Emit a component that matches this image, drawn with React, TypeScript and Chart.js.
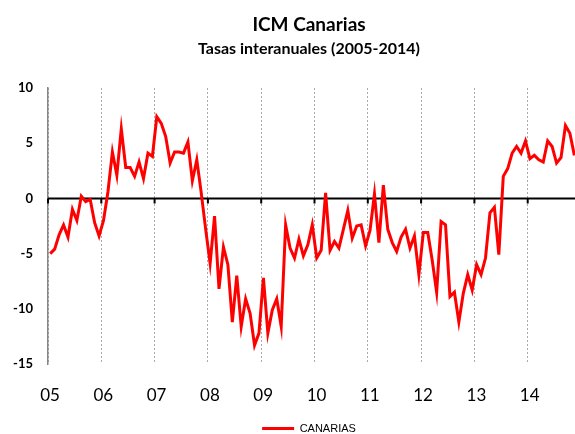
import React, { useEffect, useRef } from 'react';
import { Chart, registerables } from 'chart.js';

Chart.register(...registerables);

const title = 'ICM Canarias';
const subtitle = 'Tasas interanuales (2005-2014)';
const seriesName = 'CANARIAS';
const yearLabels = ['05', '06', '07', '08', '09', '10', '11', '12', '13', '14'];

const y2005 = [-5.0, -4.6, -3.3, -2.4, -3.5, -1.0, -2.0, 0.2, -0.3, -0.1, -2.2, -3.4];
const y2006 = [-2.0, 0.6, 4.2, 2.1, 6.3, 2.8, 2.8, 2.0, 3.3, 1.8, 4.1, 3.8];
const y2007 = [7.4, 6.8, 5.6, 3.2, 4.2, 4.2, 4.1, 5.1, 1.6, 3.5, 0.5, -2.8];
const y2008 = [-5.9, -1.6, -8.2, -4.4, -6.0, -11.2, -7.0, -11.6, -9.1, -10.4, -13.3, -12.2];
const y2009 = [-7.2, -12.2, -10.1, -9.1, -11.6, -2.4, -4.5, -5.4, -3.7, -5.2, -4.2, -2.4];
const y2010 = [-5.4, -4.7, 0.5, -4.7, -3.9, -4.5, -2.8, -1.1, -3.6, -2.5, -2.4, -4.3];
const y2011 = [-2.9, 0.4, -4.0, 1.2, -2.8, -4.0, -4.8, -3.5, -2.8, -4.5, -3.4, -6.9];
const y2012 = [-3.1, -3.1, -5.6, -8.5, -2.1, -2.4, -8.9, -8.5, -11.2, -8.6, -6.9, -8.3];
const y2013 = [-6.0, -6.9, -5.4, -1.3, -0.8, -5.1, 2.0, 2.7, 4.1, 4.7, 4.1, 5.2];
const y2014 = [3.6, 3.9, 3.5, 3.3, 5.2, 4.7, 3.2, 3.7, 6.6, 5.9, 3.9];

const canarias = [
  ...y2005, ...y2006, ...y2007, ...y2008, ...y2009,
  ...y2010, ...y2011, ...y2012, ...y2013, ...y2014,
];

const zeroAxisPlugin = {
  id: 'zeroAxis',
  beforeDatasetsDraw(chart: any) {
    const { ctx, chartArea, scales } = chart;
    const xs = scales.x;
    const ys = scales.y;
    const y0 = ys.getPixelForValue(0);
    ctx.save();
    ctx.strokeStyle = '#000000';
    ctx.lineWidth = 2;
    ctx.beginPath();
    ctx.moveTo(chartArea.left, y0);
    ctx.lineTo(chartArea.right, y0);
    xs.ticks.forEach((t: any) => {
      const px = xs.getPixelForValue(t.value);
      ctx.moveTo(px, y0);
      ctx.lineTo(px, y0 + 5);
    });
    ctx.stroke();
    ctx.restore();
  },
};

export default function App() {
  const ref = useRef<HTMLCanvasElement>(null);

  useEffect(() => {
    if (!ref.current) return;
    const points = canarias.map((v, i) => ({ x: i + 0.5, y: v }));
    const chart = new Chart(ref.current, {
      type: 'line',
      data: {
        datasets: [
          {
            label: seriesName,
            data: points,
            borderColor: '#ff0000',
            backgroundColor: '#ff0000',
            borderWidth: 3,
            pointRadius: 0,
            tension: 0,
          },
        ],
      },
      plugins: [zeroAxisPlugin],
      options: {
        animation: false,
        responsive: false,
        devicePixelRatio: 1,
        layout: { padding: { left: 0, right: 0, top: 0, bottom: 0 } },
        plugins: {
          title: {
            display: true,
            text: title,
            color: '#000',
            font: { family: 'Lato', size: 19, weight: 'bold' },
            padding: { top: 13, bottom: 0 },
          },
          subtitle: {
            display: true,
            text: subtitle,
            color: '#000',
            font: { family: 'Lato', size: 16, weight: 'bold' },
            padding: { top: 3, bottom: 30 },
          },
          legend: {
            display: true,
            position: 'bottom',
            labels: {
              boxWidth: 32,
              boxHeight: 3,
              padding: 1,
              color: '#000',
              font: { family: 'Liberation Sans', size: 11 },
              generateLabels: () => [
                {
                  text: seriesName,
                  fillStyle: '#ff0000',
                  strokeStyle: '#ff0000',
                  lineWidth: 0,
                  hidden: false,
                  datasetIndex: 0,
                },
              ],
            },
          },
          tooltip: { enabled: false },
        },
        scales: {
          x: {
            type: 'linear',
            min: 0,
            max: 120,
            afterBuildTicks: (scale: any) => {
              scale.ticks = yearLabels.map((_, i) => ({ value: i * 12 })).concat([{ value: 120 }]);
            },
            afterFit: (scale: any) => {
              scale.height = 58;
            },
            ticks: {
              autoSkip: false,
              maxRotation: 0,
              padding: 21,
              labelOffset: 2,
              color: '#000',
              font: { family: 'Lato', size: 17 },
              callback: (v: any) => {
                const idx = Math.round(Number(v) / 12);
                return yearLabels[idx] ?? '';
              },
            },
            grid: {
              display: true,
              drawTicks: false,
              color: '#a8a8a8',
              lineWidth: 1,
            },
            border: { display: false, dash: [2, 2] },
          },
          y: {
            min: -15,
            max: 10,
            afterFit: (scale: any) => {
              scale.width = 48;
            },
            ticks: {
              stepSize: 5,
              padding: 15,
              color: '#000',
              font: { family: 'Lato', size: 13, weight: 'bold' },
            },
            grid: { display: false, drawTicks: false },
            border: { display: true, color: '#858585', width: 1.5 },
          },
          yRight: {
            position: 'right',
            min: -15,
            max: 10,
            afterFit: (scale: any) => {
              scale.width = 37;
            },
            ticks: { display: false },
            grid: { display: false, drawTicks: false },
            border: { display: false },
          },
        },
      },
    } as any);
    return () => chart.destroy();
  }, []);

  return (
    <div
      style={{
        position: 'fixed',
        left: 0,
        top: 0,
        width: 575,
        height: 434,
        overflow: 'hidden',
        background: '#ffffff',
      }}
    >
      <canvas ref={ref} width={618} height={444} style={{ width: 618, height: 444, display: 'block' }} />
    </div>
  );
}
